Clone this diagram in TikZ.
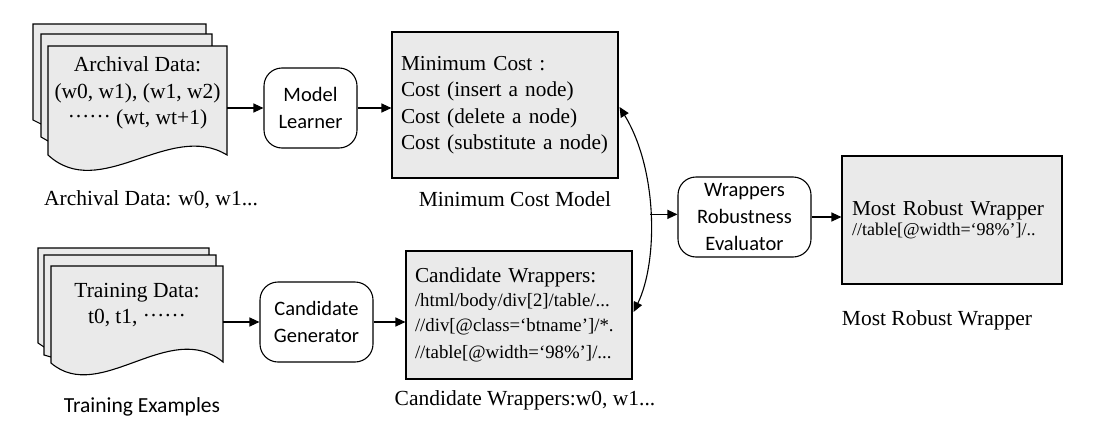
\documentclass[tikz,border=0pt]{standalone}
\usepackage{fontspec}
\setmainfont{Liberation Serif}
\newfontfamily\sansC{Carlito}
\usetikzlibrary{arrows.meta,calc}
\definecolor{boxgray}{RGB}{234,234,234}
\newcommand{\mydots}{\raisebox{0.33em}{……}}
\begin{document}
\begin{tikzpicture}[x=1pt,y=-1pt,line width=1.1pt,
  arr/.style={-{Triangle[length=10pt,width=9pt]}},
  darr/.style={{Triangle[length=10pt,width=9pt]}-{Triangle[length=10pt,width=9pt]}},
  sheet/.style={draw,fill=boxgray,line join=miter},
  doctext/.style={inner sep=0pt,align=center,font=\fontsize{21.5}{26.5}\selectfont},
  graybox/.style={draw,fill=boxgray,rectangle,align=left,inner ysep=0pt,font=\fontsize{21.3}{26.5}\selectfont},
  procbox/.style={draw,fill=white,rectangle,rounded corners=18pt,align=center,inner sep=0pt,font=\sansC\fontsize{20.5}{26.8}\selectfont},
  lbl/.style={inner sep=0pt,font=\fontsize{21.5}{26}\selectfont},
  slbl/.style={inner sep=0pt,font=\sansC\fontsize{21.5}{26}\selectfont}]
\useasboundingbox (0,0) rectangle (1094,439);

% ---- Archival data (multiple documents)
\path[sheet] (33,24) -- (206,24) -- (206,90) -- (41,124) -- (33,120) -- cycle;
\path[sheet] (41,34) -- (212,34) -- (212,100) -- (48,141) -- (41,137) -- cycle;
\path[sheet] (48,46) -- (227,46) -- (227,155) .. controls (170,120) and (100,203) .. (48,155) -- cycle;
\node[doctext] (archtxt) at (137.5,93) {Archival Data:\\(w0, w1), (w1, w2)\\\mydots\ (wt, wt+1)};
\coordinate (arch) at (227,108);
\node[lbl] (archlbl) at (151,200) {Archival Data: w0, w1...};

% ---- Training data (multiple documents)
\path[sheet] (38,248) -- (209,248) -- (209,310) -- (44,347) -- (38,343) -- cycle;
\path[sheet] (44,255) -- (216,255) -- (216,320) -- (51,357) -- (44,355) -- cycle;
\path[sheet] (51,266) -- (223,266) -- (223,362) .. controls (170,318) and (100,405) .. (51,363) -- cycle;
\node[doctext] (trntxt) at (137,305) {Training Data:\\t0, t1, \mydots};
\coordinate (trn) at (223,322);
\node[slbl] (trnlbl) at (142,407) {Training Examples};

% ---- process boxes
\node[procbox,minimum width=93pt,minimum height=80pt] (ml) at (310.5,108) {Model\\Learner};
\node[procbox,minimum width=113pt,minimum height=80pt] (cg) at (316.5,322) {Candidate\\Generator};
\node[procbox,minimum width=133pt,minimum height=80pt] (wre) at (744.5,217) {Wrappers\\Robustness\\Evaluator};

% ---- gray boxes
\node[graybox,text width=216pt,inner xsep=5pt,minimum height=146pt] (mc) at (505,105)
  {\hspace*{4pt}Minimum Cost :\\\hspace*{4pt}Cost (insert a node)\\\hspace*{4pt}Cost (delete a node)\\\hspace*{4pt}Cost (substitute a node)};
\node[lbl] (mclbl) at (515,199) {Minimum Cost Model};

\node[graybox,text width=210pt,inner xsep=8pt,minimum height=128pt] (cw) at (519,315)
  {\hspace*{1pt}Candidate Wrappers:\\[-1pt]
   {\fontsize{18.8}{25}\selectfont\hspace*{1pt}/html/body/div[2]/table/...\\\hspace*{1pt}//div[@class=‘btname’]/*.\\\hspace*{1pt}//table[@width=‘98\%’]/...}};
\node[lbl] (cwlbl) at (525,400) {Candidate Wrappers:w0, w1...};

\node[graybox,text width=200pt,inner xsep=10pt,minimum height=128pt] (mr) at (952,220)
  {Most Robust Wrapper\\[-6pt]{\fontsize{18}{21}\selectfont //table[@width=‘98\%’]/..}};
\node[lbl] (mrlbl) at (937,320) {Most Robust Wrapper};

% ---- connectors
\draw[arr] (arch) -- (ml.west);
\draw[arr] (ml.east) -- (ml.east -| mc.west);
\draw[arr] (trn) -- (cg.west);
\draw[arr] (cg.east) -- (cg.east -| cw.west);
\draw[darr] ($(mc.east)+(1,2)$) .. controls (658,170) and (658,262) .. coordinate[pos=0.5] (mid) ($(cw.east)+(1,-3)$);
\draw[arr] (mid) -- (mid -| wre.west);
\draw[arr] (wre.east) -- (wre.east -| mr.west);
\end{tikzpicture}
\end{document}
